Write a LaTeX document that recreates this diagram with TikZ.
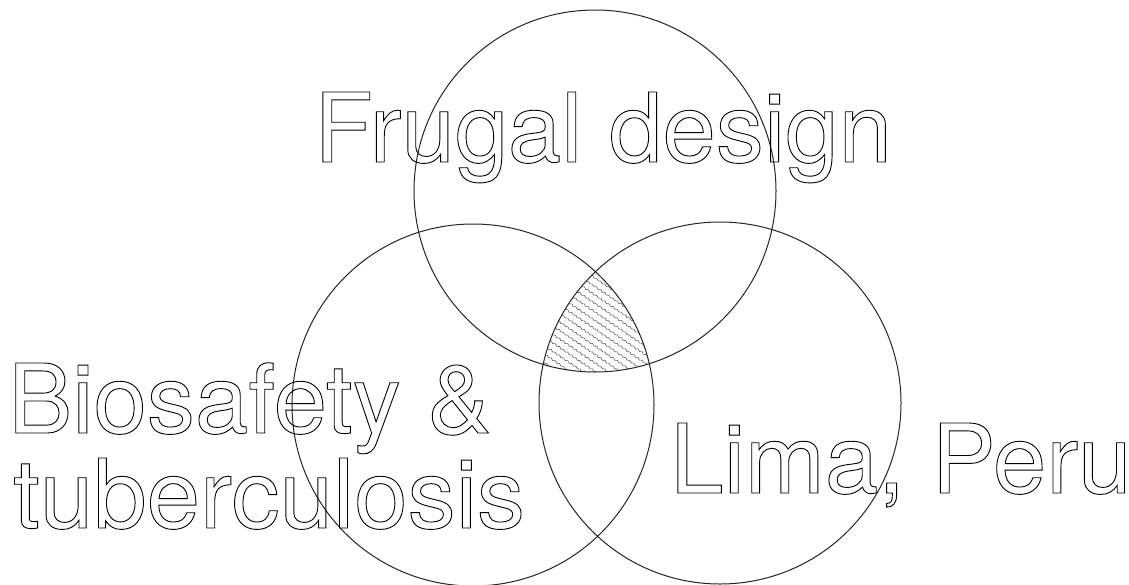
\documentclass[tikz,border=0pt]{standalone}
\usepackage{fontspec}
\setmainfont{TeX Gyre Heros}
\usetikzlibrary{decorations.pathmorphing}
\newcommand{\outl}[1]{\special{pdf:literal direct 1 Tr 0.9 w}#1\special{pdf:literal direct 0 Tr}}
\tikzset{
  ring/.style={draw=black!85, line width=1pt},
  hatchline/.style={draw=black!60, line width=0.6pt, decorate,
    decoration={snake, amplitude=0.7pt, segment length=5pt}},
  label/.style={inner sep=0pt, font=\fontsize{96}{95}\selectfont, align=left}
}
\begin{document}
\begin{tikzpicture}[x=1pt,y=-1pt]
\useasboundingbox (0,0) rectangle (1129,584);
\fill[white] (0,0) rectangle (1129,584);
% hatched triple intersection
\begin{scope}
  \clip (595,191) circle [radius=181pt];
  \clip (473,405) circle [radius=181pt];
  \clip (720,403) circle [radius=181pt];
  \foreach \c in {-110,-101.5,...,110}
    \draw[hatchline] (500,{320+\c-0.68*95}) -- (690,{320+\c+0.68*95});
\end{scope}
% circles
\draw[ring] (595,191) circle [radius=181pt];
\draw[ring] (473,405) circle [radius=181pt];
\draw[ring] (720,403) circle [radius=181pt];
% labels
\node[label, anchor=base west] (frugal) at (314,162) {\outl{Frugal design}};
\node[label, anchor=base west] (bio) at (8,433) {\outl{Biosafety \&}};
\node[label, anchor=base west] (tb) at (13,528) {\outl{tuberculosis}};
\node[label, anchor=base west] (lima) at (670,493) {\outl{Lima, Peru}};
\end{tikzpicture}
\end{document}
